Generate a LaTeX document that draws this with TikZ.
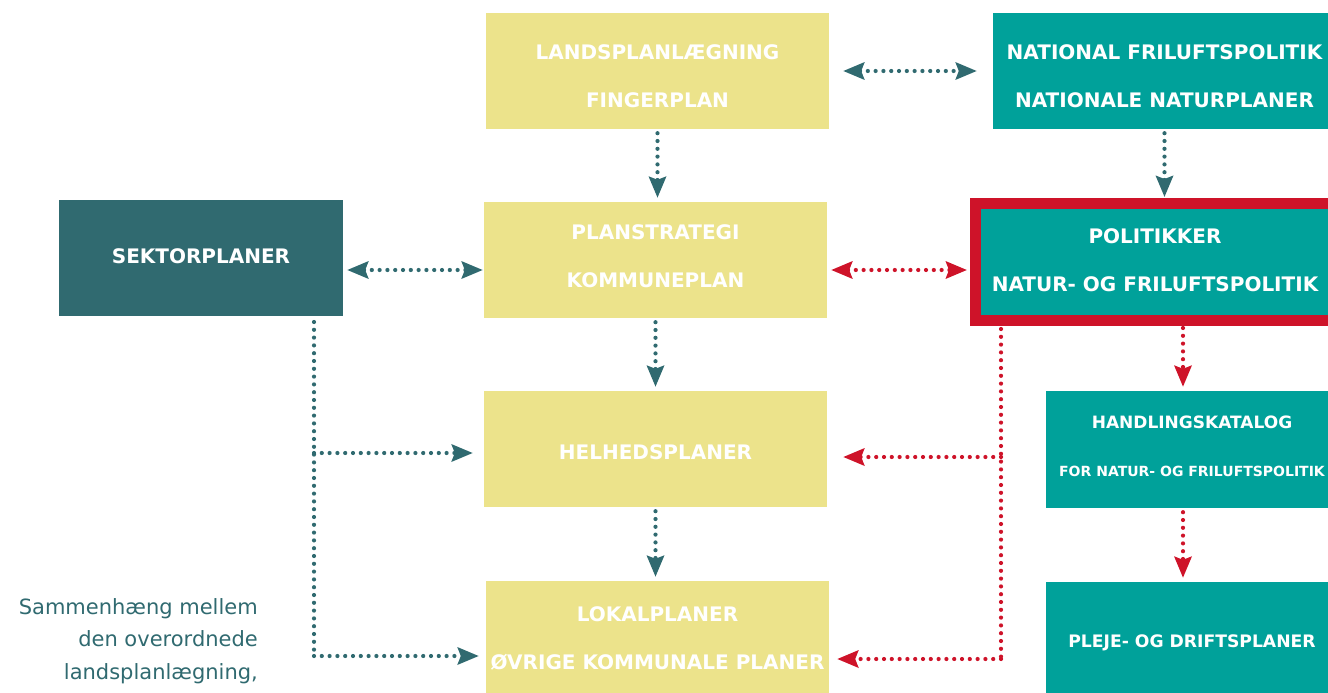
\documentclass[tikz,border=0pt]{standalone}
\usepackage{fontspec}
\setmainfont{DejaVu Sans}
\usetikzlibrary{arrows.meta}
\definecolor{cyel}{RGB}{236,227,139}
\definecolor{cteal}{RGB}{0,161,154}
\definecolor{cdark}{RGB}{48,106,112}
\definecolor{cred}{RGB}{206,19,41}
\begin{document}
\begin{tikzpicture}[x=1pt,y=-1pt,
  >={Stealth[length=21pt,width=17pt,inset=3pt]},
  box/.style={rectangle, inner sep=0pt, minimum width=343pt, minimum height=116pt},
  ybox/.style={box, fill=cyel},
  tbox/.style={box, fill=cteal},
  btext/.style={inner sep=0pt, align=center, text=white, font=\bfseries\fontsize{20}{48}\selectfont},
  dotline/.style={line width=4.2pt, line cap=round, dash pattern=on 0pt off 7.8pt},
  tarr/.style={dotline, draw=cdark},
  rarr/.style={dotline, draw=cred}]
\useasboundingbox (0,0) rectangle (1328,693);
% boxes
\node[ybox] (lands) at (657.5,71) {};
\node[tbox] (nat) at (1164.5,71) {};
\node[box, fill=cdark, minimum width=284pt] (sektor) at (201,258) {};
\node[ybox] (plan) at (655.5,260) {};
\node[box, fill=cteal, draw=cred, line width=11pt, minimum width=359pt, minimum height=117pt] (pol) at (1155,262) {};
\node[ybox] (helheds) at (655.5,449) {};
\node[ybox] (lokal) at (657.5,639) {};
\node[tbox, minimum width=292pt, minimum height=117pt] (hand) at (1192,449.5) {};
\node[tbox, minimum width=292pt] (pleje) at (1192,640) {};
% box texts
\node[btext] (landsT) at ([yshift=-5pt]lands.center) {LANDSPLANLÆGNING\\FINGERPLAN};
\node[btext] (natT) at ([yshift=-5pt]nat.center) {NATIONAL FRILUFTSPOLITIK\\NATIONALE NATURPLANER};
\node[btext] (sektorT) at ([yshift=2pt]sektor.center) {SEKTORPLANER};
\node[btext] (planT) at ([yshift=4pt]plan.center) {PLANSTRATEGI\\KOMMUNEPLAN};
\node[btext] (polT) at ([yshift=1.5pt]pol.center) {POLITIKKER\\NATUR- OG FRILUFTSPOLITIK};
\node[btext] (helhedsT) at ([yshift=-3pt]helheds.center) {HELHEDSPLANER};
\node[btext] (lokalT) at ([yshift=1pt]lokal.center) {LOKALPLANER\\ØVRIGE KOMMUNALE PLANER};
\node[btext] (handT) at ([yshift=3.5pt]hand.center)
  {{\fontsize{17}{49}\selectfont HANDLINGSKATALOG}\\{\fontsize{14}{49}\selectfont FOR NATUR- OG FRILUFTSPOLITIK}};
\node[btext, font=\bfseries\fontsize{17.2}{48}\selectfont] (plejeT) at ([yshift=-3pt]pleje.center) {PLEJE- OG DRIFTSPLANER};
% note
\node[anchor=north east, align=right, text=cdark, inner sep=0pt,
  font=\fontsize{21}{32.5}\selectfont] (note) at (258,598)
  {Sammenhæng mellem\\den overordnede\\landsplanlægning,};
% arrows
\draw[tarr,<->,shorten <=14pt,shorten >=16pt] (lands) -- (nat);
\draw[tarr,->,shorten <=4pt,shorten >=4pt] (lands.south) -- (lands.south |- plan.north);
\draw[tarr,->,shorten <=4pt,shorten >=1pt] (nat.south) -- (nat.south |- pol.north);
\draw[tarr,<->,shorten <=4pt,shorten >=1pt] ([yshift=-12pt]sektor.east) -- ([yshift=-10pt]plan.west);
\draw[rarr,<->,shorten <=4pt,shorten >=3pt] ([yshift=-10pt]plan.east) -- ([yshift=-8pt]pol.west);
\draw[tarr,->,shorten <=4pt,shorten >=4pt] (plan.south) -- (helheds.north);
\draw[tarr,->,shorten <=4pt,shorten >=4pt] (helheds.south) -- (helheds.south |- lokal.north);
\draw[rarr,->,shorten <=2pt,shorten >=4pt] ([xshift=28pt]pol.south) -- ([xshift=28pt]pol.south |- hand.north);
\draw[rarr,->,shorten <=4pt,shorten >=4pt] ([xshift=-9pt]hand.south) -- ([xshift=-9pt]hand.south |- pleje.north);
% red branch
\coordinate (r1) at (1001,457);
\coordinate (r2) at (1001,659);
\draw[rarr,shorten <=3pt] ([xshift=-154pt]pol.south) -- (r2);
\draw[rarr,->,shorten >=16pt] (r1) -- (helheds.east |- r1);
\draw[rarr,->,shorten >=8pt] (r2) -- (lokal.east |- r2);
% teal branch
\coordinate (t0) at (314,322);
\coordinate (t1) at (314,453);
\coordinate (t2) at (314,656);
\draw[tarr] (t0) -- (t2);
\draw[tarr,->,shorten >=11pt] (t1) -- (helheds.west |- t1);
\draw[tarr,->,shorten >=7pt] (t2) -- (lokal.west |- t2);
\end{tikzpicture}
\end{document}
